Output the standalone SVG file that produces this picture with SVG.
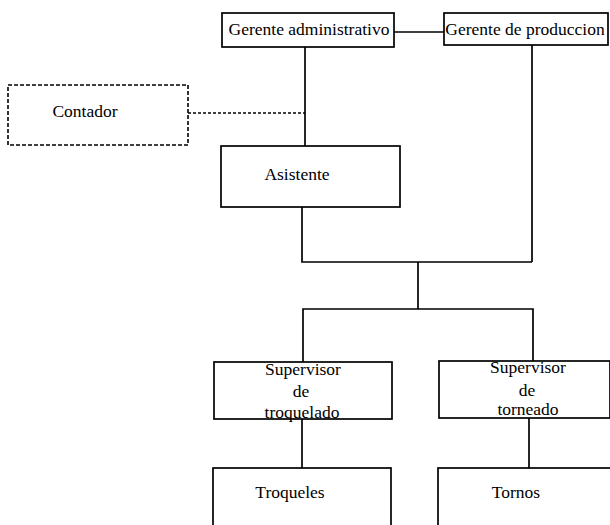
<svg xmlns="http://www.w3.org/2000/svg" width="610" height="525" viewBox="0 0 610 525">
<style>
.box{fill:#fff;stroke:#000;stroke-width:1.7}
.dash{fill:#fff;stroke:#000;stroke-width:1.6;stroke-dasharray:4 2}
.ln{fill:none;stroke:#000;stroke-width:1.7}
.dl{fill:none;stroke:#000;stroke-width:1.4;stroke-dasharray:3 2}
text{font-family:"Liberation Serif","Times New Roman",serif;font-size:17.5px;fill:#000;text-anchor:middle}
</style>
<rect width="610" height="525" fill="#fff"/>
<g id="connectors">
<line class="ln" x1="394" y1="32" x2="444" y2="32"/>
<line class="ln" x1="305" y1="46" x2="305" y2="146"/>
<line class="dl" x1="188" y1="113" x2="305" y2="113"/>
<line class="ln" x1="532" y1="45" x2="532" y2="262"/>
<polyline class="ln" points="302,207 302,262 532,262"/>
<line class="ln" x1="418" y1="262" x2="418" y2="309"/>
<polyline class="ln" points="303,362 303,309 533,309 533,361"/>
<line class="ln" x1="302" y1="419" x2="302" y2="468"/>
<line class="ln" x1="529" y1="418" x2="529" y2="468"/>
</g>
<g id="gerente-admin">
<rect class="box" x="222" y="13" width="172" height="34"/>
<text x="309" y="35">Gerente administrativo</text>
</g>
<g id="gerente-prod">
<rect class="box" x="444" y="13" width="164" height="32"/>
<text x="525" y="35" font-size="16.5">Gerente de produccion</text>
</g>
<g id="contador">
<rect class="dash" x="8" y="85" width="180" height="60"/>
<text x="85" y="117">Contador</text>
</g>
<g id="asistente">
<rect class="box" x="221" y="146" width="179" height="61"/>
<text x="297" y="180">Asistente</text>
</g>
<g id="sup-troquelado">
<rect class="box" x="214" y="362" width="178" height="57"/>
<text x="303" y="375">Supervisor</text>
<text x="301" y="397">de</text>
<text x="302" y="418">troquelado</text>
</g>
<g id="sup-torneado">
<rect class="box" x="439" y="361" width="171" height="57"/>
<text x="528" y="373">Supervisor</text>
<text x="527" y="396">de</text>
<text x="528" y="415">torneado</text>
</g>
<g id="troqueles">
<rect class="box" x="213" y="468" width="178" height="70"/>
<text x="290" y="498">Troqueles</text>
</g>
<g id="tornos">
<rect class="box" x="438" y="468" width="180" height="70"/>
<text x="516" y="498">Tornos</text>
</g>
</svg>
